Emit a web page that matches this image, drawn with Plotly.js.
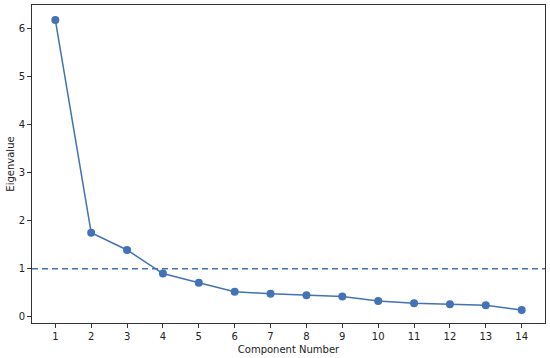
<!DOCTYPE html>
<html>
<head>
<meta charset="utf-8">
<script src="https://cdn.plot.ly/plotly-3.0.1.min.js"></script>
<style>html,body{margin:0;padding:0;background:#fff;}#chart{width:550px;height:358px;}</style>
</head>
<body>
<div id="chart"></div>
<script>
const components = [1,2,3,4,5,6,7,8,9,10,11,12,13,14];
const eigenvalues = [6.18,1.75,1.39,0.90,0.71,0.52,0.48,0.45,0.42,0.33,0.28,0.26,0.24,0.14];
const threshold = 1;
const xTicks = components;
const yTicks = [0,1,2,3,4,5,6];

const color = '#4472b4';
const trace = {
  x: components, y: eigenvalues, mode: 'lines+markers', type: 'scatter',
  line: {color: color, width: 1.5},
  marker: {color: color, size: 8},
  hoverinfo: 'none'
};
const axisCommon = {
  showline: true, linecolor: '#333', linewidth: 1, mirror: true,
  ticks: 'outside', ticklen: 4, tickcolor: '#333', tickwidth: 1,
  showgrid: false, zeroline: false,
  tickfont: {family: 'DejaVu Sans', size: 10, color: '#222'}
};
const layout = {
  width: 550, height: 358,
  margin: {l: 32, r: 5, t: 5, b: 35},
  paper_bgcolor: '#fff', plot_bgcolor: '#fff',
  showlegend: false,
  xaxis: Object.assign({}, axisCommon, {
    range: [0.35, 14.65], tickvals: xTicks, ticktext: xTicks.map(String),
    title: {text: 'Component Number', font: {family: 'DejaVu Sans', size: 10, color: '#222'}, standoff: 4}
  }),
  yaxis: Object.assign({}, axisCommon, {
    range: [-0.13, 6.49], tickvals: yTicks, ticktext: yTicks.map(String),
    title: {text: 'Eigenvalue', font: {family: 'DejaVu Sans', size: 10, color: '#222'}, standoff: 2}
  }),
  shapes: [{
    type: 'line', xref: 'paper', x0: 0, x1: 1, yref: 'y', y0: threshold, y1: threshold,
    line: {color: color, width: 1.5, dash: '6px,4px'}
  }]
};
Plotly.newPlot('chart', [trace], layout, {displayModeBar: false, staticPlot: true});
</script>
</body>
</html>
